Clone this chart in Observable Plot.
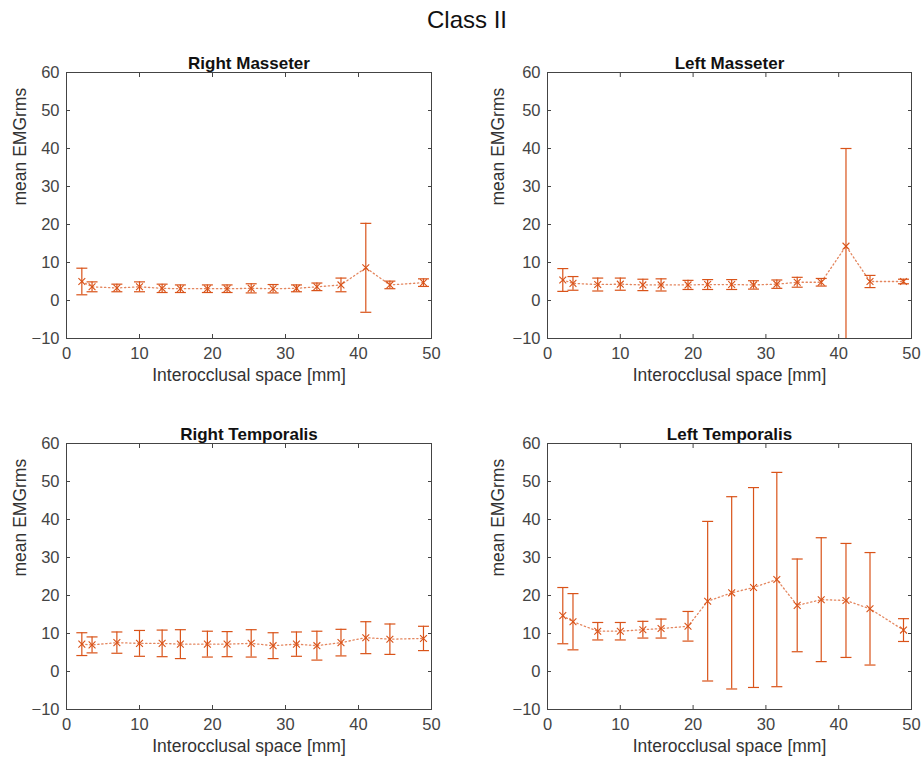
<!DOCTYPE html>
<html><head><meta charset="utf-8">
<script src="https://cdn.jsdelivr.net/npm/d3@7"></script>
<script src="https://cdn.jsdelivr.net/npm/@observablehq/plot@0.6"></script>
<style>
body{margin:0;background:#fff;font-family:"Liberation Sans",Arial,sans-serif;}
#fig{position:relative;width:924px;height:762px;overflow:hidden;}
#suptitle{position:absolute;left:5px;width:924px;top:6px;text-align:center;font-size:24px;color:#111;}
.panel{position:absolute;}
</style></head><body>
<div id="fig"><div id="suptitle">Class II</div></div>
<script>
// Interocclusal space [mm] (x positions of the measurements)
const space = [2.1, 3.5, 6.9, 10.0, 13.1, 15.6, 19.3, 22.0, 25.3, 28.3, 31.5, 34.3, 37.6, 41.0, 44.3, 48.9];

const panelTitles = ["Right Masseter", "Left Masseter", "Right Temporalis", "Left Temporalis"];

const rightMasseterMean = [5.0, 3.6, 3.3, 3.6, 3.2, 3.1, 3.1, 3.1, 3.2, 3.1, 3.2, 3.6, 4.1, 8.6, 4.1, 4.7];
const rightMasseterErr  = [3.5, 1.3, 1.0, 1.3, 1.1, 1.0, 1.0, 1.0, 1.2, 1.1, 0.9, 1.0, 1.8, 11.7, 1.0, 1.0];

const leftMasseterMean = [5.4, 4.5, 4.2, 4.3, 4.1, 4.1, 4.1, 4.2, 4.2, 4.1, 4.3, 4.8, 4.8, 14.3, 5.0, 5.0];
const leftMasseterErr  = [3.0, 1.8, 1.7, 1.6, 1.5, 1.6, 1.2, 1.3, 1.3, 1.1, 1.1, 1.3, 1.0, 25.7, 1.6, 0.6];

const rightTemporalisMean = [7.2, 7.0, 7.6, 7.4, 7.4, 7.2, 7.2, 7.2, 7.4, 6.8, 7.2, 6.8, 7.6, 8.9, 8.5, 8.7];
const rightTemporalisErr  = [3.0, 2.1, 2.8, 3.4, 3.5, 3.8, 3.4, 3.3, 3.6, 3.4, 3.2, 3.8, 3.5, 4.2, 4.0, 3.2];

const leftTemporalisMean = [14.7, 13.1, 10.6, 10.6, 11.0, 11.3, 11.9, 18.5, 20.7, 22.1, 24.2, 17.4, 18.9, 18.7, 16.5, 10.9];
const leftTemporalisErr  = [7.4, 7.4, 2.3, 2.3, 2.2, 2.5, 3.9, 21.0, 25.3, 26.3, 28.2, 12.2, 16.3, 15.0, 14.8, 3.0];

const xTicks = [0, 10, 20, 30, 40, 50];
const yTicks = [-10, 0, 10, 20, 30, 40, 50, 60];
const xLabel = "Interocclusal space [mm]";
const yLabel = "mean EMGrms";

const color = "#D95319";
const axisColor = "#444";
const font = "Liberation Sans, Arial, Helvetica, sans-serif";

const capSymbol = {
  draw(context, size) {
    const r = Math.sqrt(size / Math.PI);
    context.moveTo(-r, 0);
    context.lineTo(r, 0);
  }
};

function panel(title, mean, err, left, top, mLeft, mRight, yLabelDx) {
  const data = space.map((x, i) => ({x, y: mean[i], lo: mean[i] - err[i], hi: mean[i] + err[i]}));
  const svg = Plot.plot({
    width: 462, height: 360,
    marginLeft: mLeft, marginRight: mRight, marginTop: 32, marginBottom: 62,
    style: {fontFamily: font, background: "transparent", overflow: "visible"},
    x: {domain: [0, 50], ticks: xTicks, label: null},
    y: {domain: [-10, 60], ticks: yTicks, label: null},
    marks: [
      Plot.axisX(xTicks, {anchor: "bottom", tickSize: -4, tickPadding: 13, fontSize: 16.5, color: axisColor, label: null}),
      Plot.axisX(xTicks, {anchor: "top", tickSize: -4, tickFormat: () => "", color: axisColor, label: null}),
      Plot.axisY(yTicks, {anchor: "left", tickSize: -4, tickPadding: 11, fontSize: 16.5, color: axisColor, label: null}),
      Plot.axisY(yTicks, {anchor: "right", tickSize: -4, tickFormat: () => "", color: axisColor, label: null}),
      Plot.frame({stroke: axisColor, strokeWidth: 1}),
      Plot.line(data, {x: "x", y: "y", stroke: color, strokeWidth: 1.3, strokeDasharray: "1.3,2.7", strokeOpacity: 0.7, clip: true}),
      Plot.ruleX(data, {x: "x", y1: "lo", y2: "hi", stroke: color, strokeWidth: 1.2, clip: true}),
      Plot.dot(data, {x: "x", y: "hi", symbol: capSymbol, r: 5.5, stroke: color, strokeWidth: 1.2, fill: "none", clip: true}),
      Plot.dot(data, {x: "x", y: "lo", symbol: capSymbol, r: 5.5, stroke: color, strokeWidth: 1.2, fill: "none", clip: true}),
      Plot.dot(data, {x: "x", y: "y", symbol: "times", r: 3.2, stroke: color, strokeWidth: 1.1}),
      Plot.text([title], {frameAnchor: "top", dy: -16, fontWeight: "bold", fontSize: 17, fill: "#111"}),
      Plot.text([xLabel], {frameAnchor: "bottom", dy: 42, fontSize: 17.5, fill: "#333"}),
      Plot.text([yLabel], {frameAnchor: "left", rotate: -90, dx: yLabelDx, fontSize: 17.5, fill: "#333"})
    ]
  });
  svg.classList.add("panel");
  svg.style.left = left + "px";
  svg.style.top = top + "px";
  document.getElementById("fig").appendChild(svg);
}

panel(panelTitles[0], rightMasseterMean, rightMasseterErr, 0, 40, 66, 31, -46);
panel(panelTitles[1], leftMasseterMean, leftMasseterErr, 462, 40, 85, 13, -49);
panel(panelTitles[2], rightTemporalisMean, rightTemporalisErr, 0, 411, 66, 31, -46);
panel(panelTitles[3], leftTemporalisMean, leftTemporalisErr, 462, 411, 85, 13, -49);
</script>
</body></html>
